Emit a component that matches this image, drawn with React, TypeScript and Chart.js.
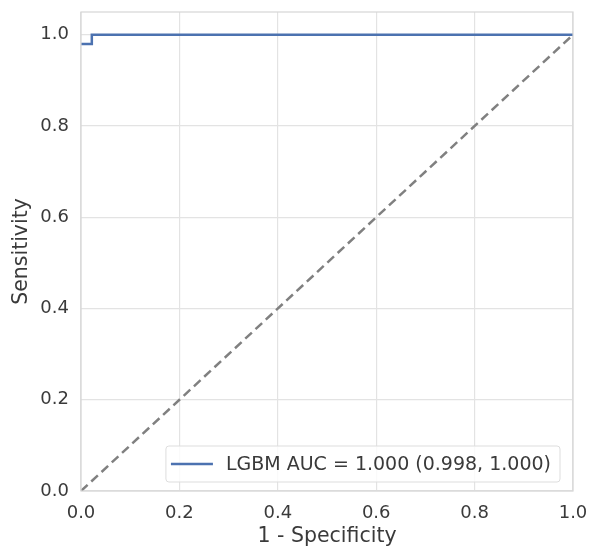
import React, { useEffect, useRef } from "react";
import { Chart, registerables } from "chart.js";

Chart.register(...registerables);

const rocX = [0.0, 0.022, 0.022, 1.0];
const rocY = [0.98, 0.98, 1.0, 1.0];
const diagX = [0.0, 1.0];
const diagY = [0.0, 1.0];
const tickValues = [0.0, 0.2, 0.4, 0.6, 0.8, 1.0];
const rocLabel = "LGBM AUC = 1.000 (0.998, 1.000)";
const xTitle = "1 - Specificity";
const yTitle = "Sensitivity";

const FONT = "'DejaVu Sans', sans-serif";
const TEXT = "#3a3a3a";

const legendPlugin = {
  id: "insideLegend",
  afterDatasetsDraw(chart: any) {
    const { ctx, chartArea } = chart;
    const ds = chart.data.datasets[0];
    ctx.save();
    ctx.font = `19px ${FONT}`;
    const tw = ctx.measureText(ds.label).width;
    const right = chartArea.right - 13;
    const bottom = chartArea.bottom - 9;
    const h = 36;
    const w = tw + 60 + 9;
    const left = right - w;
    const top = bottom - h;
    ctx.fillStyle = "rgba(255,255,255,0.8)";
    ctx.strokeStyle = "#dddddd";
    ctx.lineWidth = 1;
    ctx.beginPath();
    const r = 3;
    ctx.moveTo(left + r, top);
    ctx.arcTo(right, top, right, bottom, r);
    ctx.arcTo(right, bottom, left, bottom, r);
    ctx.arcTo(left, bottom, left, top, r);
    ctx.arcTo(left, top, right, top, r);
    ctx.closePath();
    ctx.fill();
    ctx.stroke();
    const cy = top + h / 2;
    ctx.strokeStyle = ds.borderColor;
    ctx.lineWidth = 2.5;
    ctx.beginPath();
    ctx.moveTo(left + 5, cy);
    ctx.lineTo(left + 47, cy);
    ctx.stroke();
    ctx.fillStyle = TEXT;
    ctx.textBaseline = "middle";
    ctx.textAlign = "left";
    ctx.fillText(ds.label, left + 60, cy + 1);
    ctx.restore();
  },
};

const borderPlugin = {
  id: "frame",
  afterDraw(chart: any) {
    const { ctx, chartArea } = chart;
    ctx.save();
    ctx.strokeStyle = "#d6d6d6";
    ctx.lineWidth = 1.2;
    ctx.strokeRect(chartArea.left, chartArea.top, chartArea.right - chartArea.left, chartArea.bottom - chartArea.top);
    ctx.restore();
  },
};

export default function App() {
  const ref = useRef<HTMLCanvasElement>(null);
  useEffect(() => {
    document.body.style.margin = "0";
    const chart = new Chart(ref.current as HTMLCanvasElement, {
      type: "scatter",
      data: {
        datasets: [
          {
            label: rocLabel,
            data: rocX.map((x, i) => ({ x, y: rocY[i] })),
            showLine: true,
            borderColor: "#4c72b0",
            borderWidth: 2.5,
            pointRadius: 0,
            tension: 0,
          },
          {
            label: "chance",
            data: diagX.map((x, i) => ({ x, y: diagY[i] })),
            showLine: true,
            borderColor: "#808080",
            borderWidth: 2.5,
            borderDash: [9, 5],
            pointRadius: 0,
          },
        ],
      },
      options: {
        animation: false,
        responsive: false,
        layout: { padding: { top: 12, right: 17, left: 0, bottom: 0 } },
        plugins: { legend: { display: false }, tooltip: { enabled: false } },
        scales: {
          x: {
            type: "linear",
            min: 0,
            max: 1,
            afterBuildTicks: (s: any) => {
              s.ticks = tickValues.map((v) => ({ value: v }));
            },
            afterFit: (s: any) => {
              s.height = 58;
              s.paddingLeft = 0;
              s.paddingRight = 0;
            },
            ticks: {
              font: { family: FONT, size: 18 },
              color: TEXT,
              padding: 12,
              maxRotation: 0,
              autoSkip: false,
              callback: (v: any) => Number(v).toFixed(1),
            },
            grid: { color: "#e3e3e3", lineWidth: 1.2, drawTicks: false },
            border: { display: false },
            title: {
              display: true,
              text: xTitle,
              font: { family: FONT, size: 20.5 },
              color: TEXT,
              padding: { top: 0, bottom: 0 },
            },
          },
          y: {
            type: "linear",
            min: 0,
            max: 1.05,
            afterBuildTicks: (s: any) => {
              s.ticks = tickValues.map((v) => ({ value: v }));
            },
            afterFit: (s: any) => {
              s.width = 81;
              s.paddingTop = 0;
              s.paddingBottom = 0;
            },
            ticks: {
              font: { family: FONT, size: 18 },
              color: TEXT,
              padding: 12,
              autoSkip: false,
              callback: (v: any) => Number(v).toFixed(1),
            },
            grid: { color: "#e3e3e3", lineWidth: 1.2, drawTicks: false },
            border: { display: false },
            title: {
              display: true,
              text: yTitle,
              font: { family: FONT, size: 20.5 },
              color: TEXT,
              padding: { top: 9, bottom: 0 },
            },
          },
        },
      },
      plugins: [borderPlugin, legendPlugin],
    } as any);
    return () => chart.destroy();
  }, []);
  return <canvas ref={ref} width={590} height={549} style={{ display: "block" }} />;
}
